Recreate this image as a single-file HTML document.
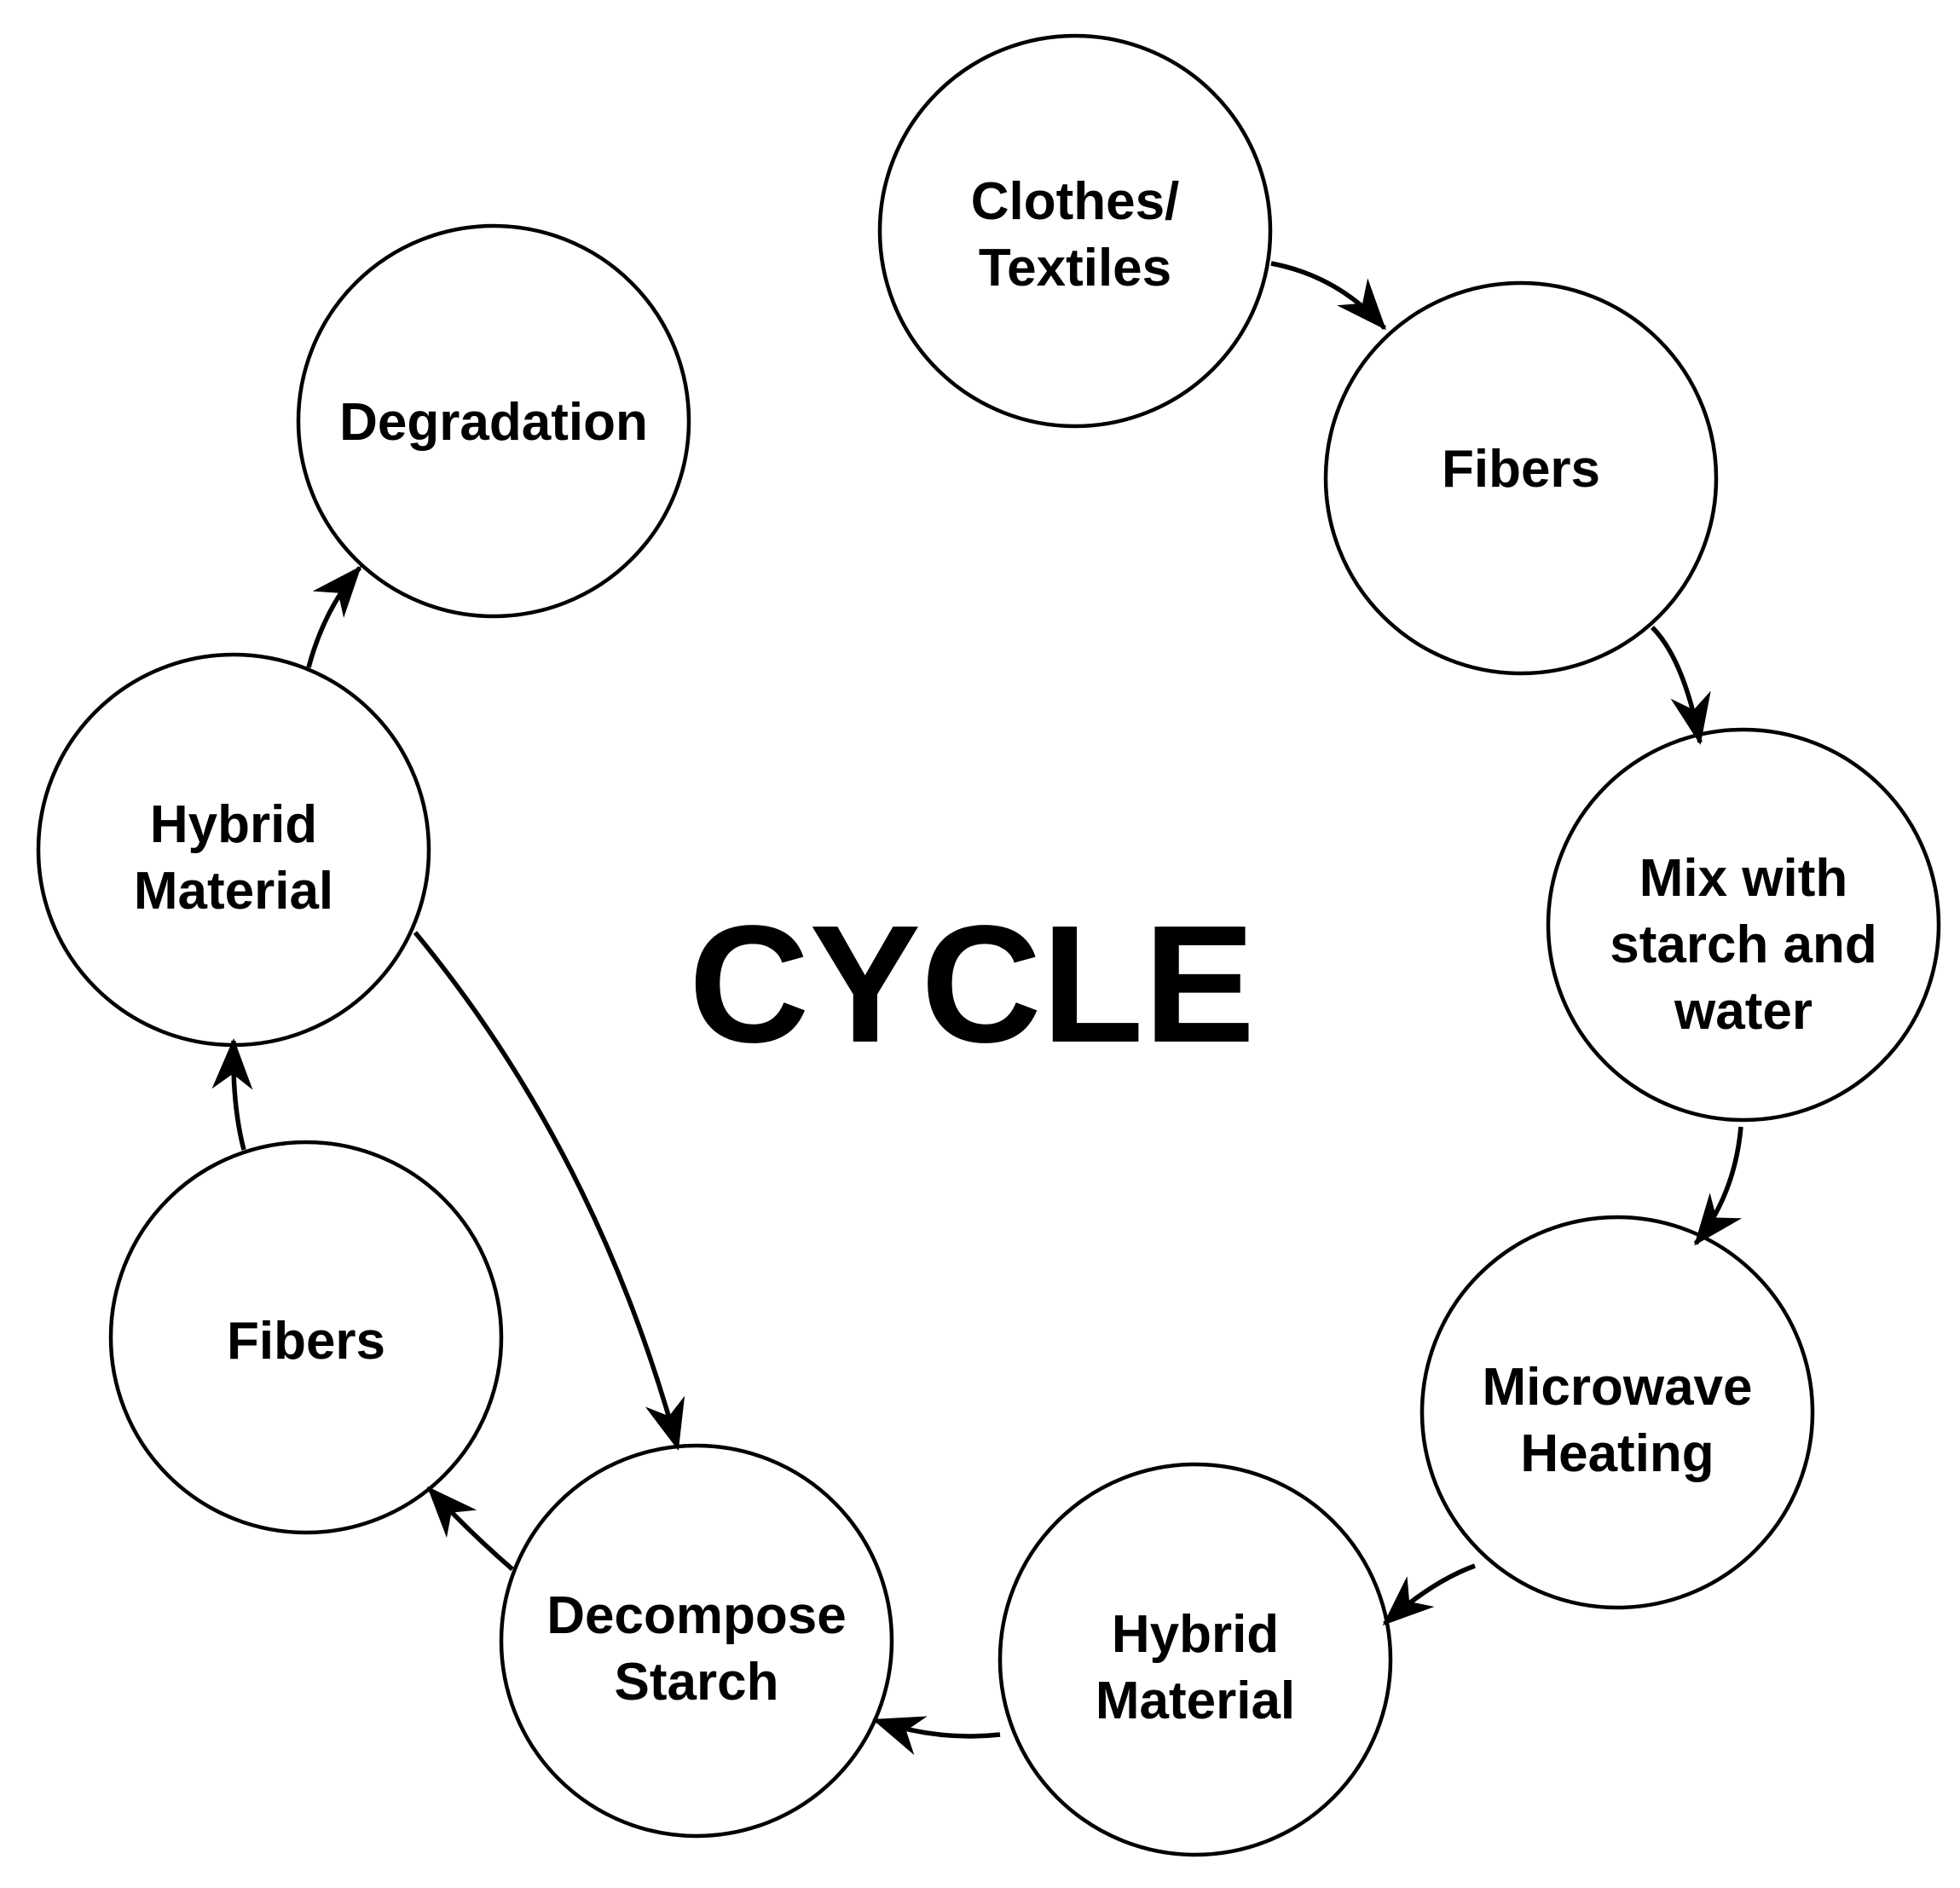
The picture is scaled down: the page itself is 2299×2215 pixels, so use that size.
<!DOCTYPE html>
<html><head><meta charset="utf-8"><style>
html,body{margin:0;padding:0;background:#fff;}
svg{display:block}
text{font-family:"Liberation Sans",Arial,sans-serif;font-weight:bold;fill:#000;text-anchor:middle}
</style></head><body>
<svg width="2299" height="2215" viewBox="0 0 2299 2215" xmlns="http://www.w3.org/2000/svg">
<defs>
<marker id="a" viewBox="0 0 20 16" refX="19" refY="8" markerWidth="60" markerHeight="50" markerUnits="userSpaceOnUse" orient="auto">
<path d="M0,0 L20,8 L0,16 L6,8 z" fill="#000"/>
</marker>
</defs>
<g fill="#fff" stroke="#000" stroke-width="4.5">
<circle cx="1261" cy="271" r="229"/>
<circle cx="1784" cy="561" r="229"/>
<circle cx="2045" cy="1085" r="229"/>
<circle cx="1897" cy="1657" r="229"/>
<circle cx="1402" cy="1947" r="229"/>
<circle cx="817" cy="1925" r="229"/>
<circle cx="359" cy="1569" r="229"/>
<circle cx="274" cy="997" r="229"/>
<circle cx="579" cy="494" r="229"/>
</g>
<g fill="none" stroke="#000" stroke-width="5.5" marker-end="url(#a)">
<path d="M1491,309 Q1570,324 1624,385"/>
<path d="M1938,736 Q1975,773 1994,871"/>
<path d="M2042,1322 Q2035,1401 1989,1459"/>
<path d="M1730,1837 Q1680,1855 1624,1905"/>
<path d="M1173,2035 Q1100,2043 1026,2018"/>
<path d="M601,1841 Q550,1797 503,1746"/>
<path d="M286,1349 Q272,1295 274,1221"/>
<path d="M362,783 Q380,715 422,666"/>
<path d="M487,1094 Q700,1352 795,1699"/>
</g>
<g font-size="62">
<text x="1261" y="257">Clothes/</text><text x="1261" y="335">Textiles</text>
<text x="1784" y="571">Fibers</text>
<text x="2045" y="1051">Mix with</text><text x="2045" y="1129">starch and</text><text x="2045" y="1207">water</text>
<text x="1897" y="1648">Microwave</text><text x="1897" y="1726">Heating</text>
<text x="1402" y="1938">Hybrid</text><text x="1402" y="2016">Material</text>
<text x="817" y="1916">Decompose</text><text x="817" y="1994">Starch</text>
<text x="359" y="1594">Fibers</text>
<text x="274" y="988">Hybrid</text><text x="274" y="1066">Material</text>
<text x="579" y="516">Degradation</text>
</g>
<text x="1140" y="1222" font-size="196">CYCLE</text>
</svg>
</body></html>
